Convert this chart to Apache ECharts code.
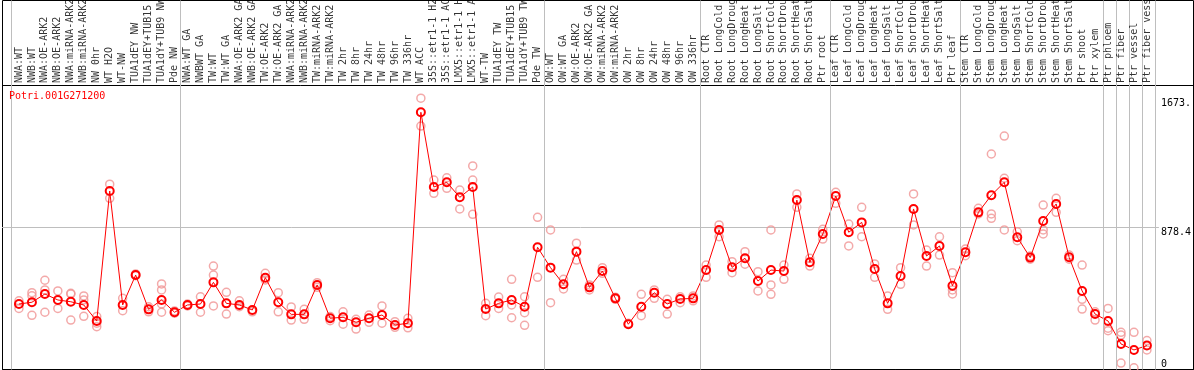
<!DOCTYPE html>
<html>
<head>
<meta charset="utf-8">
<script src="https://cdn.jsdelivr.net/npm/echarts@6/dist/echarts.min.js"></script>
<style>
html,body{margin:0;padding:0;background:#fff;}
#chart{width:1194px;height:370px;}
</style>
</head>
<body>
<div id="chart"></div>
<script>
const geneId = 'Potri.001G271200';

const categories = [
"NWA:WT","NWB:WT","NWA:OE-ARK2","NWB:OE-ARK2","NWA:miRNA-ARK2","NWB:miRNA-ARK2","NW 0hr","WT H2O","WT-NW","TUA1dEY NW","TUA1dEY+TUB15 NW","TUA1dY+TUB9 NW","Pde NW",
"NWA:WT GA","NWBWT GA","TW:WT","TW:WT GA","NWA:OE-ARK2 GA","NWB:OE-ARK2 GA","TW:OE-ARK2","TW:OE-ARK2 GA","NWA:miRNA-ARK2 GA","NWB:miRNA-ARK2 GA","TW:miRNA-ARK2","TW:miRNA-ARK2 GA","TW 2hr","TW 8hr","TW 24hr","TW 48hr","TW 96hr","TW 336hr","WT ACC","35S::etr1-1 H2O","35S::etr1-1 ACC","LMX5::etr1-1 H2O","LMX5::etr1-1 ACC","WT-TW","TUA1dEY TW","TUA1dEY+TUB15 TW","TUA1dY+TUB9 TW","Pde TW",
"OW:WT","OW:WT GA","OW:OE-ARK2","OW:OE-ARK2 GA","OW:miRNA-ARK2","OW:miRNA-ARK2 GA","OW 2hr","OW 8hr","OW 24hr","OW 48hr","OW 96hr","OW 336hr",
"Root CTR","Root LongCold","Root LongDrought","Root LongHeat","Root LongSalt","Root ShortCold","Root ShortDrought","Root ShortHeat","Root ShortSalt","Ptr root",
"Leaf CTR","Leaf LongCold","Leaf LongDrought","Leaf LongHeat","Leaf LongSalt","Leaf ShortCold","Leaf ShortDrought","Leaf ShortHeat","Leaf ShortSalt","Ptr leaf",
"Stem CTR","Stem LongCold","Stem LongDrought","Stem LongHeat","Stem LongSalt","Stem ShortCold","Stem ShortDrought","Stem ShortHeat","Stem ShortSalt","Ptr shoot","Ptr xylem",
"Ptr phloem","Ptr fiber","Ptr vessel","Ptr fiber vessel"
];

// group boundaries (index of first category of each group, plus the end)
const groupBounds = [0, 13, 41, 53, 63, 73, 84, 85, 86, 87, 88];

const means = [
402,413,464,427,416,396,297,1101,396,581,
369,427,351,396,402,536,406,396,365,565,
413,338,338,520,314,320,289,314,334,272,
283,1588,1126,1155,1062,1126,371,406,427,385,
753,627,524,726,505,606,437,277,385,472,
402,433,437,612,860,629,685,544,612,606,
1045,660,835,1070,846,907,619,406,575,990,
699,761,515,722,969,1075,1155,815,689,916,
1021,691,483,340,297,155,118,145
];

const replicates = [
[422,375],[472,453,332],[549,489,351],[483,375],[468,464,303],[452,427,326],[324,283,262],[1143,1056],[437,361],[588,577],
[385,354],[526,489,402,351],[359,345],[402,390],[447,351],[637,581,390],[474,340],[422,385],[354],[592,551],
[472,354],[384,303],[369,307],[534,505],[324,299],[354,277],[307,247],[334,289],[390,283],[293,258],
[314,255],[1675,1503],[1169,1087],[1183,1118],[1107,990],[1256,1169,957],[406,330],[445,375],[555,396,317],[447,348,270],
[938,567],[860,410],[555,495],[778,674],[520,489],[627,592],[444,431],[283],[462,330],[489,437],
[431,340],[447,410],[452,422],[643,567],[891,818],[664,596],[726,648],[602,483],[860,520,462],[643,555],
[1083,1000],[685,637],[864,804],[1093,1025],[897,761],[1000,818],[650,567],[452,369],[627,524],[1083,891],
[736,637],[818,705],[596,489,464],[742,701],[994,959],[1330,959,932],[1441,1180,860],[849,794],[699,679],[1014,860,835],
[1056,969],[705,679],[643,431,371],[354,303],[375,252,237],[227,210,37],[227,7],[176,118]
];

const yMax = 1756.8;
const yGrid = 878.4;
const yTopLabel = 1673;

const FONT = 'DejaVu Sans Mono';
const STEP = 13;      // px per category
const X0 = 19;        // px of first category

const meanData = means.map((v, i) => [i, v]);
const repData = [];
replicates.forEach((arr, i) => arr.forEach(v => repData.push([i, v])));
const labelData = categories.map((c, i) => [i, yMax]);

const chart = echarts.init(document.getElementById('chart'), null, {renderer: 'canvas'});

const frameMin = (2.5 - X0) / STEP;
const frameMax = frameMin + 1191 / STEP;
const plotMin = (2 - X0) / STEP;
const plotMax = (1162 - X0) / STEP;

chart.setOption({
  animation: false,
  backgroundColor: '#fff',
  graphic: [{
    type: 'text', left: 9, top: 91, z: 10,
    style: {text: geneId, fill: '#ff0000', font: '10px "DejaVu Sans Mono"'}
  }],
  grid: [
    {left: 2.5, right: 0.5, top: 0.5, bottom: 0.5, show: true, borderColor: '#000', borderWidth: 1, backgroundColor: 'transparent'},
    {left: 2.5, right: 0.5, top: 85.5, bottom: 0.5, show: true, borderColor: '#000', borderWidth: 1, backgroundColor: 'transparent'},
    {left: 2, right: 32, top: 85, bottom: 1, show: false}
  ],
  xAxis: [
    {type: 'value', gridIndex: 0, min: frameMin, max: frameMax, show: false},
    {type: 'value', gridIndex: 1, min: 0, max: 1, show: false},
    {type: 'value', gridIndex: 2, min: plotMin, max: plotMax, show: false}
  ],
  yAxis: [
    {type: 'value', gridIndex: 0, min: 0, max: 1, show: false},
    {type: 'value', gridIndex: 1, min: 0, max: 1, show: false},
    {type: 'value', gridIndex: 2, position: 'right', min: 0, max: yMax, interval: yGrid,
     axisLine: {show: false}, axisTick: {show: false},
     splitLine: {show: true, showMinLine: false, showMaxLine: false, lineStyle: {color: '#bebebe', width: 1}},
     axisLabel: {customValues: [yGrid, yTopLabel], margin: 2, align: 'left', verticalAlign: 'top',
       fontSize: 10, fontFamily: FONT, color: '#000',
       formatter: v => (v === yTopLabel ? '1673.' : String(v))}},
    {type: 'value', gridIndex: 2, position: 'right', min: 0, max: yMax, interval: yGrid,
     axisLine: {show: false}, axisTick: {show: false}, splitLine: {show: false},
     axisLabel: {customValues: [0], margin: 2, align: 'left', verticalAlign: 'bottom',
       fontSize: 10, fontFamily: FONT, color: '#000', formatter: v => String(v)}}
  ],
  series: [
    {
      type: 'line', xAxisIndex: 0, yAxisIndex: 0, data: [], silent: true, z: 1,
      markLine: {
        silent: true, symbol: ['none', 'none'], animation: false,
        label: {show: false},
        lineStyle: {color: '#bebebe', width: 1, type: 'solid'},
        data: groupBounds.map(k => ({xAxis: k - 7.5 / STEP}))
      }
    },
    {
      // category names written above the plot, one per category position
      type: 'scatter', xAxisIndex: 2, yAxisIndex: 2, data: labelData, z: 5,
      symbolSize: 0, clip: false, silent: true,
      itemStyle: {color: 'rgba(0,0,0,0)'},
      label: {
        show: true, position: 'top', distance: 2, rotate: 90,
        align: 'left', verticalAlign: 'middle',
        fontSize: 10, fontFamily: FONT, color: '#000',
        formatter: p => categories[p.dataIndex]
      },
      labelLayout: {hideOverlap: false, moveOverlap: null}
    },
    {
      type: 'scatter', xAxisIndex: 2, yAxisIndex: 2, data: repData, z: 3,
      symbol: 'circle', symbolSize: 8,
      itemStyle: {color: 'rgba(0,0,0,0)', borderColor: '#f09494', borderWidth: 1.5},
      silent: true
    },
    {
      type: 'line', xAxisIndex: 2, yAxisIndex: 2, data: meanData, z: 4,
      symbol: 'circle', symbolSize: 8, showAllSymbol: true,
      lineStyle: {color: '#ff0000', width: 1},
      itemStyle: {color: 'rgba(0,0,0,0)', borderColor: '#ff0000', borderWidth: 2},
      silent: true
    }
  ]
});
</script>
</body>
</html>
